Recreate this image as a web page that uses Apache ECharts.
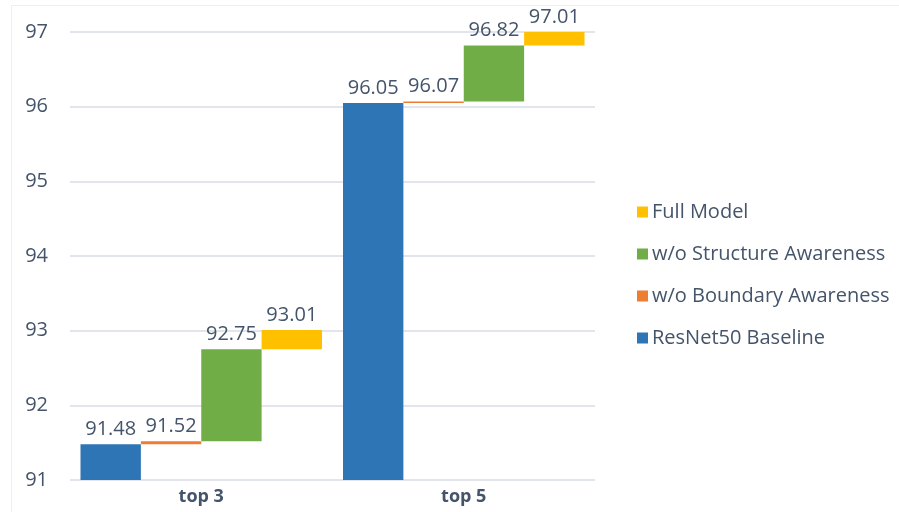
<!DOCTYPE html>
<html><head><meta charset="utf-8">
<script src="https://cdn.jsdelivr.net/npm/echarts@6/dist/echarts.min.js"></script>
<style>html,body{margin:0;padding:0;background:#fff}#c{width:899px;height:512px}</style>
</head><body><div id="c"></div>
<script>
const categories = ['top 3', 'top 5'];
const baseline = [91.48, 96.05];
const boundary = [91.52, 96.07];
const structure = [92.75, 96.82];
const full = [93.01, 97.01];
const yTicks = [91, 92, 93, 94, 95, 96, 97];

const names = ['ResNet50 Baseline', 'w/o Boundary Awareness', 'w/o Structure Awareness', 'Full Model'];
const colors = ['#2e75b6', '#ed7d31', '#70ad47', '#ffc000'];
const levels = [baseline, boundary, structure, full];

const FONT = 'Open Sans';
const TXT = '#44546a';
const series = [];
levels.forEach((vals, i) => {
  const prev = i === 0 ? null : levels[i - 1];
  if (prev) {
    series.push({
      type: 'bar', stack: 's' + i, silent: true,
      itemStyle: { color: 'transparent' },
      data: prev.map(v => v), barCategoryGap: '8%', barGap: '0%'
    });
  }
  series.push({
    name: names[i], type: 'bar', stack: 's' + i,
    itemStyle: { color: colors[i] },
    barCategoryGap: '8%', barGap: '0%',
    data: vals.map((v, k) => prev ? +(v - prev[k]).toFixed(4) : v),
    label: {
      show: true, position: 'top', distance: 5,
      color: TXT, fontFamily: FONT, fontSize: 20,
      formatter: p => vals[p.dataIndex].toFixed(2)
    }
  });
});

const chart = echarts.init(document.getElementById('c'));
chart.setOption({
  animation: false,
  grid: { left: 70, right: 304, top: 32, bottom: 32 },
  graphic: [{ type: 'rect', shape: { x: 11.5, y: 5.5, width: 900, height: 520 }, style: { fill: 'none', stroke: '#eeeeee', lineWidth: 1 }, silent: true }],
  legend: {
    orient: 'vertical', left: 632, top: 197, itemGap: 22,
    itemWidth: 11, itemHeight: 11, icon: 'rect',
    data: ['Full Model', 'w/o Structure Awareness', 'w/o Boundary Awareness', 'ResNet50 Baseline'],
    textStyle: { color: TXT, fontFamily: FONT, fontSize: 20, lineHeight: 20, padding: [0, 0, 0, -1] }
  },
  xAxis: {
    type: 'category', data: categories,
    axisLine: { show: false }, axisTick: { show: false },
    axisLabel: { color: TXT, fontFamily: FONT, fontSize: 18, fontWeight: 'bold', margin: 8 }
  },
  yAxis: {
    type: 'value', min: yTicks[0], max: yTicks[yTicks.length - 1], interval: 1,
    axisLine: { show: false }, axisTick: { show: false },
    axisLabel: { color: TXT, fontFamily: FONT, fontSize: 20, margin: 22 },
    splitLine: { lineStyle: { color: '#d9dde4', width: 1.5 } }
  },
  series: series
});
</script></body></html>
